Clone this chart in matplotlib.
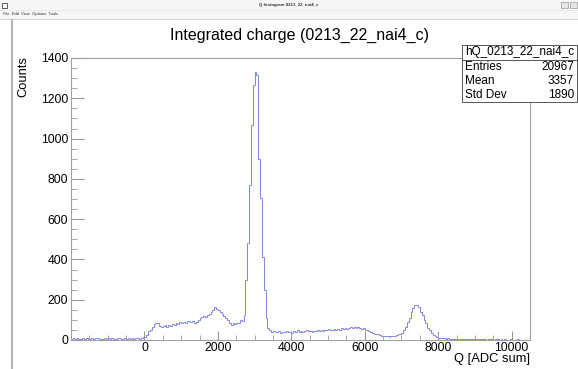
import numpy as np
import matplotlib
matplotlib.use("Agg")
import matplotlib.pyplot as plt
from matplotlib.patches import Rectangle
from matplotlib.lines import Line2D
from matplotlib.ticker import MultipleLocator

plt.rcParams["font.family"] = ["Liberation Sans", "DejaVu Sans"]

# histogram hQ_0213_22_nai4_c : 250 bins of 50 from -2000 to 10500
q_min, q_max, bin_w = -2000, 10500, 50

counts_neg = [6, 8, 5, 9, 7, 4, 10, 6, 8, 5, 7, 9, 6, 11, 8, 5, 7, 6, 9, 4,
              8, 7, 10, 6, 5, 8, 9, 6, 7, 12, 5, 8, 6, 9, 7, 10, 8, 6, 9, 14]
counts_low = [15, 25, 45, 52, 64, 80, 85, 86, 70, 66,
              68, 72, 66, 74, 70, 78, 72, 84, 80, 88,
              82, 90, 86, 92, 95, 88, 96, 84, 88, 100,
              108, 112, 118, 115, 122, 130, 140, 148, 165, 155,
              150, 138, 128, 118, 108, 100, 82, 76, 84, 80]
counts_peak = [85, 82, 100, 95, 125, 300, 480, 770, 1065, 1265,
               1330, 1315, 900, 705, 410, 250, 110, 60]
counts_mid = [48, 42, 45, 40, 38, 44, 36, 42, 40, 45,
              38, 42, 36, 44, 40, 48, 42, 46, 40, 45,
              50, 44, 47, 42, 46, 44, 48, 46, 50, 45,
              52, 48, 55, 50, 48, 54, 50, 56, 52, 58,
              55, 60, 56, 62, 65, 60, 66, 62, 64, 60,
              56, 58, 52, 48, 44, 40, 36, 32, 28, 30,
              24, 22, 20, 18, 20, 17, 18, 20, 22, 25,
              28, 32]
counts_peak2 = [36, 50, 66, 90, 110, 140, 158, 174, 172, 165,
                140, 124, 100, 83, 62, 50, 35, 25, 18, 14]
counts_high = [12, 10, 9, 8, 7, 8, 6, 7, 5, 6,
               7, 5, 6, 4, 6, 5, 4, 6, 3, 5,
               4, 5, 3, 4, 3, 5, 2, 4, 3, 3,
               2, 4, 3, 2, 3, 1, 3, 2, 2, 3,
               2, 1, 2, 3, 1, 2, 1, 2, 1, 2]

counts = np.array(counts_neg + counts_low + counts_peak + counts_mid + counts_peak2 + counts_high)
edges = np.arange(q_min, q_max + bin_w, bin_w)

hist_name = "hQ_0213_22_nai4_c"
stat_names = ["Entries", "Mean", "Std Dev"]
stat_values = ["20967", "3357", "1890"]

W, H = 578, 369
fig = plt.figure(figsize=(W / 100, H / 100), dpi=100)
fig.patch.set_facecolor("white")

def fx(x):
    return x / W

def fy(y):
    return 1 - y / H

# window chrome
fig.add_artist(Rectangle((0, fy(19)), 1, 19 / H, transform=fig.transFigure,
                         facecolor="#f6f6f6", edgecolor="none", zorder=0))
fig.add_artist(Line2D([0, 1], [fy(9.5), fy(9.5)], transform=fig.transFigure, color="#e2e2e2", lw=0.5))
fig.add_artist(Line2D([0, 1], [fy(19), fy(19)], transform=fig.transFigure, color="#d0d0d0", lw=0.6))
fig.add_artist(Rectangle((fx(2), fy(7.5)), 5 / W, 5 / H, transform=fig.transFigure,
                         facecolor="white", edgecolor="#444444", lw=0.6))
fig.text(fx(289), fy(5), "Q histogram 0213_22_nai4_c", fontsize=3.2, ha="center", va="center",
         fontweight="bold", color="#333333")
fig.text(fx(3), fy(14.5), "File  Edit  View  Options  Tools", fontsize=3, ha="left", va="center",
         color="#333333")
fig.add_artist(Rectangle((fx(561), fy(8)), 7 / W, 6 / H, transform=fig.transFigure,
                         facecolor="#e6e6e6", edgecolor="#999999", lw=0.5))
fig.add_artist(Rectangle((fx(570), fy(8)), 7 / W, 6 / H, transform=fig.transFigure,
                         facecolor="#e6e6e6", edgecolor="#999999", lw=0.5))
fig.add_artist(Line2D([fx(12), fx(12)], [0, fy(20)], transform=fig.transFigure, color="#b5b5b5", lw=1.5))

# plot frame
x0, x1, y0, y1 = 71, 530, 58, 340
ax = fig.add_axes([fx(x0), fy(y1), (x1 - x0) / W, (y1 - y0) / H])
ax.stairs(counts, edges, color="#8585e0", lw=0.7)
ax.set_xlim(q_min, q_max)
ax.set_ylim(0, 1400)

ax.set_xticks(np.arange(0, 10001, 2000))
ax.xaxis.set_minor_locator(MultipleLocator(500))
ax.yaxis.set_major_locator(MultipleLocator(200))
ax.yaxis.set_minor_locator(MultipleLocator(50))
ax.tick_params(axis="both", which="both", direction="in", color="#999999", labelsize=8.8,
               top=False, right=False)
ax.tick_params(axis="x", which="major", length=6.5, pad=1.5)
ax.tick_params(axis="x", which="minor", length=3.5)
ax.tick_params(axis="y", which="major", length=9, pad=2)
ax.tick_params(axis="y", which="minor", length=4.5)
for s in ax.spines.values():
    s.set_color("#a0a0a0")
    s.set_linewidth(0.8)

fig.text(fx(x1), fy(359), "Q [ADC sum]", fontsize=9.3, ha="right", va="center")
fig.text(fx(23), fy(56), "Counts", fontsize=9.3, ha="center", va="top", rotation=90)
fig.text(fx(300), fy(35), "Integrated charge (0213_22_nai4_c)", fontsize=11.5, ha="center", va="center")

# stats box
bx0, bx1, by0, by1 = 462, 577, 45, 102
fig.add_artist(Rectangle((fx(bx0), fy(by1)), (bx1 - bx0) / W, (by1 - by0) / H,
                         transform=fig.transFigure, facecolor="white", edgecolor="#555555",
                         lw=0.7, zorder=3))
fig.add_artist(Line2D([fx(bx0), fx(bx1)], [fy(59.5), fy(59.5)], transform=fig.transFigure,
                      color="#555555", lw=0.7, zorder=4))
fig.text(fx((bx0 + bx1) / 2), fy(52.5), hist_name, fontsize=8.5, ha="center", va="center", zorder=5)
for i, (name, val) in enumerate(zip(stat_names, stat_values)):
    yy = 67 + 14 * i
    fig.text(fx(bx0 + 3), fy(yy), name, fontsize=8.5, ha="left", va="center", zorder=5)
    fig.text(fx(bx1 - 3), fy(yy), val, fontsize=8.5, ha="right", va="center", zorder=5)

fig.savefig("out.png", dpi=100)
